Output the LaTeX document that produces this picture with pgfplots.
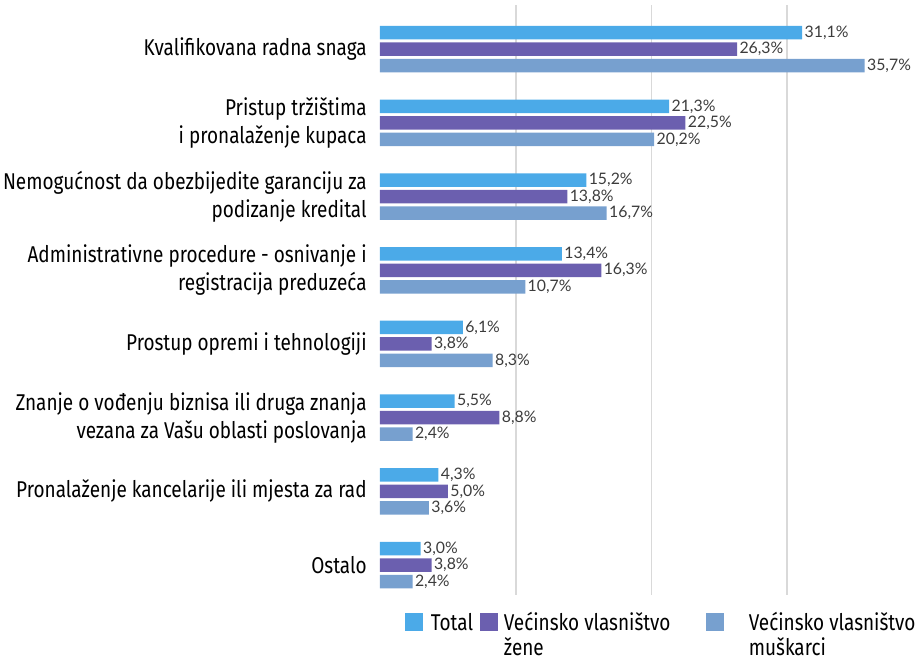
\documentclass[border=0pt]{standalone}
\usepackage{fontspec}
\setmainfont{Fira Sans}[FakeStretch=0.83]
\newfontfamily\valfont{Lato}
\usepackage{pgfplots}
\pgfplotsset{compat=1.18}
\definecolor{cTot}{HTML}{4BAAE8}
\definecolor{cZen}{HTML}{6B5FAF}
\definecolor{cMus}{HTML}{77A0CF}
\definecolor{cGrid}{HTML}{D9D9D9}
\definecolor{cVal}{HTML}{3C3C3C}

\begin{document}
\begin{tikzpicture}
\begin{axis}[
    scale only axis,
    width=10.78cm, height=11.79cm,
    xbar, bar width=0.27cm,
    xmin=0, xmax=39.7,
    ymin=-0.6, ymax=7.4, y dir=reverse,
    ytick={0,...,7},
    yticklabels={
        Kvalifikovana radna snaga,
        {Pristup tržištima\\i pronalaženje kupaca},
        {Nemogućnost da obezbijedite garanciju za\\podizanje kredital},
        {Administrativne procedure - osnivanje i\\registracija preduzeća},
        Prostup opremi i tehnologiji,
        {Znanje o vođenju biznisa ili druga znanja\\vezana za Vašu oblasti poslovanja},
        Pronalaženje kancelarije ili mjesta za rad,
        Ostalo},
    yticklabel style={align=right, font=\fontsize{13pt}{16pt}\selectfont, inner xsep=0pt, xshift=-0.26cm},
    xtick={10,20,30}, xticklabels={},
    xmajorgrids, grid style={draw=cGrid, line width=1pt},
    axis line style={draw=none}, major tick length=0pt,
    point meta=x,
    nodes near coords={\pgfmathprintnumber[fixed,fixed zerofill,precision=1,use comma,assume math mode=true]{\pgfplotspointmeta}\%},
    nodes near coords style={font=\valfont\fontsize{9pt}{10pt}\selectfont, text=cVal, anchor=west, inner xsep=1.2pt},
    legend style={at={(axis description cs:0.0464,-0.024)}, anchor=north west, draw=none,
        inner sep=0pt, column sep=0pt, font=\fontsize{13pt}{14pt}\selectfont,
        cells={anchor=base west, inner sep=0pt}},
    legend columns=3,
]
\addplot[fill=cTot, draw=none, bar shift=0.33cm,
    legend image code/.code={\fill[cTot] (0cm,0cm) rectangle (0.36cm,0.35cm); \path (0.44cm,0cm);}]
    coordinates {(31.1,0) (21.3,1) (15.2,2) (13.4,3) (6.1,4) (5.5,5) (4.3,6) (3.0,7)};
\addplot[fill=cZen, draw=none, bar shift=0cm,
    legend image code/.code={\fill[cZen] (0cm,0cm) rectangle (0.36cm,0.35cm); \path (0.4cm,0cm);}]
    coordinates {(26.3,0) (22.5,1) (13.8,2) (16.3,3) (3.8,4) (8.8,5) (5.0,6) (3.8,7)};
\addplot[fill=cMus, draw=none, bar shift=-0.33cm,
    legend image code/.code={\fill[cMus] (0cm,0cm) rectangle (0.36cm,0.35cm); \path (0.78cm,0cm);}]
    coordinates {(35.7,0) (20.2,1) (16.7,2) (10.7,3) (8.3,4) (2.4,5) (3.6,6) (2.4,7)};
\legend{\parbox[t]{0.92cm}{Total},
    \parbox[t]{3.98cm}{Većinsko vlasništvo\\žene},
    \parbox[t]{3.34cm}{Većinsko vlasništvo\\muškarci}}
\end{axis}
\pgfresetboundingbox
\path[use as bounding box] ([shift={(-7.6cm,-1.35cm)}]current axis.south west) rectangle ++(18.38cm,13.24cm);
\end{tikzpicture}
\end{document}
